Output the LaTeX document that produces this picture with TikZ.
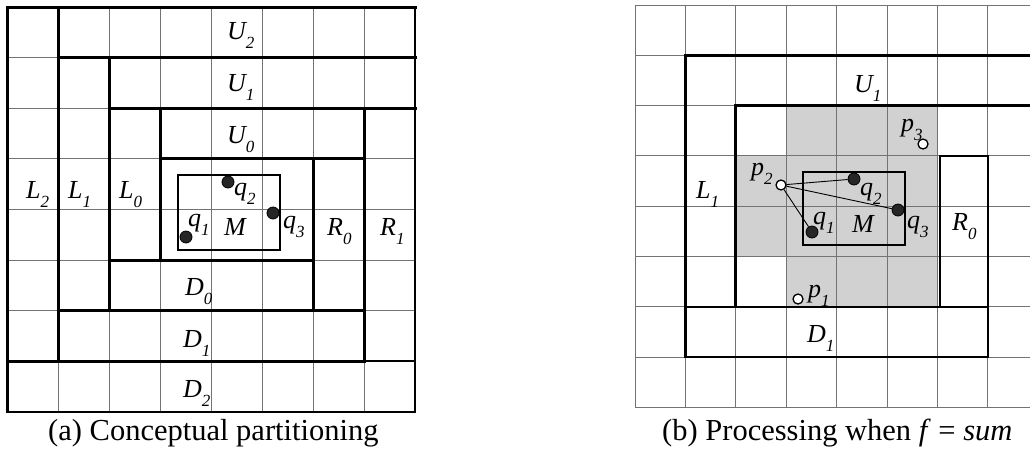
\documentclass[tikz,border=0pt]{standalone}
\usepackage{fontspec}
\setmainfont{Liberation Serif}
\newcommand\lbl[2]{{\fontsize{26pt}{26pt}\selectfont\itshape #1\raisebox{-9pt}{\fontsize{17pt}{17pt}\selectfont #2}}}
\begin{document}
\begin{tikzpicture}[x=1pt,y=-1pt,
  gridline/.style={draw=black!55,line width=1pt},
  partline/.style={draw=black,line width=3pt,line cap=rect},
  boxline/.style={draw=black,line width=2pt},
  dboxline/.style={draw=black,line width=2.5pt},
  lab/.style={anchor=base west,inner sep=0pt},
  captext/.style={anchor=base west,inner sep=0pt,font=\fontsize{30.5pt}{30.5pt}\selectfont},
  qdot/.style={circle,draw=black,fill=black!85,line width=0.8pt,inner sep=0pt,minimum size=12pt},
  pdot/.style={circle,draw=black,fill=white,line width=1.3pt,inner sep=0pt,minimum size=10pt},
  link/.style={draw=black,line width=0.9pt}]
\useasboundingbox (0,0) rectangle (1030,456);
\fill[white] (0,0) rectangle (1030,456);

% ---------------- left: conceptual partitioning
\begin{scope}[shift={(7,7)},x=51pt,y=-50.6pt]
  \foreach \i in {1,...,7} {
    \draw[gridline] (\i,0) -- (\i,8);
    \draw[gridline] (0,\i) -- (8,\i);
  }
  \draw[partline] (8,0) -- (0,0) -- (0,8);
  \draw[boxline] (0,8) -- (8,8) -- (8,0);
  \draw[partline] (1,0) -- (1,7);
  \draw[partline] (0,7) -- (7,7);
  \draw[boxline] (7,7) -- (8,7);
  \draw[partline] (1,1) -- (8,1);
  \draw[partline] (2,1) -- (2,6);
  \draw[partline] (1,6) -- (7,6);
  \draw[partline] (2,2) -- (8,2);
  \draw[partline] (7,2) -- (7,7);
  \draw[partline] (3,2) -- (3,5);
  \draw[partline] (3,3) -- (7,3);
  \draw[partline] (6,3) -- (6,6);
  \draw[partline] (2,5) -- (6,5);
\end{scope}
\draw[boxline] (178,175) rectangle (280,250);

\node[lab] (lU2) at (227,39) {\lbl{U}{2}};
\node[lab] (lU1) at (227,91) {\lbl{U}{1}};
\node[lab] (lU0) at (227,143) {\lbl{U}{0}};
\node[lab] (lL2) at (26,198) {\lbl{L}{2}};
\node[lab] (lL1) at (68,198) {\lbl{L}{1}};
\node[lab] (lL0) at (119,198) {\lbl{L}{0}};
\node[lab] (lM) at (224,235) {\lbl{M}{}};
\node[lab] (lR0) at (327,235) {\lbl{R}{0}};
\node[lab] (lR1) at (380,235) {\lbl{R}{1}};
\node[lab] (lD0) at (185,295) {\lbl{D}{0}};
\node[lab] (lD1) at (183,347) {\lbl{D}{1}};
\node[lab] (lD2) at (183,397) {\lbl{D}{2}};
\node[qdot] (lq2) at (228,182) {};
\node[qdot] (lq3) at (273,213) {};
\node[qdot] (lq1) at (186,237) {};
\node[lab] (lq2t) at (234,195) {\lbl{q}{2}};
\node[lab] (lq3t) at (283,228) {\lbl{q}{3}};
\node[lab] (lq1t) at (188,226) {\lbl{q}{1}};
\node[captext] (capa) at (48,440) {(a) Conceptual partitioning};

% ---------------- right: processing when f = sum
\begin{scope}
  \clip (620,0) rectangle (1030,456);
  \begin{scope}[shift={(635,5)},x=50.4pt,y=-50.3pt]
    \fill[black!18] (3,2) rectangle (6,6);
    \fill[black!18] (2,3) rectangle (3,5);
    \foreach \i in {0,...,8} {
      \draw[gridline] (\i,0) -- (\i,8);
      \draw[gridline] (0,\i) -- (8.3,\i);
    }
    \draw[partline] (1,6) -- (1,1) -- (8.3,1);
    \draw[partline] (2,6) -- (2,2) -- (8.3,2);
    \draw[dboxline] (1,6) rectangle (7,7);
    \draw[boxline] (6.05,6) -- (6.05,3) -- (7,3) -- (7,6);
  \end{scope}
\end{scope}
\draw[boxline] (803,172) rectangle (905,245);

\node[qdot] (rq1) at (812,232) {};
\node[qdot] (rq2) at (854,179) {};
\node[qdot] (rq3) at (898,210) {};
\node[pdot] (rp2) at (781,185) {};
\node[pdot] (rp1) at (798,299) {};
\node[pdot] (rp3) at (923,144) {};
\draw[link] (rp2) -- (rq2);
\draw[link] (rp2) -- (rq3);
\draw[link] (rp2) -- (rq1);

\node[lab] (rU1) at (854,92) {\lbl{U}{1}};
\node[lab] (rL1) at (696,198) {\lbl{L}{1}};
\node[lab] (rR0) at (952,230) {\lbl{R}{0}};
\node[lab] (rD1) at (807,342) {\lbl{D}{1}};
\node[lab] (rM) at (852,232) {\lbl{M}{}};
\node[lab] (rp3t) at (901,131) {\lbl{p}{3}};
\node[lab] (rp2t) at (751,175) {\lbl{p}{2}};
\node[lab] (rp1t) at (808,297) {\lbl{p}{1}};
\node[lab] (rq2t) at (860,195) {\lbl{q}{2}};
\node[lab] (rq3t) at (907,228) {\lbl{q}{3}};
\node[lab] (rq1t) at (813,224) {\lbl{q}{1}};
\node[captext] (capb) at (662,440) {(b) Processing when \textit{f} = \textit{sum}};
\end{tikzpicture}
\end{document}
